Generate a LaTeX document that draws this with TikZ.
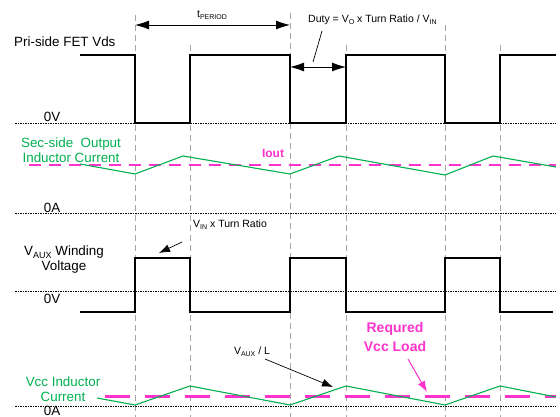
\documentclass[tikz,border=0pt]{standalone}
\usepackage{fontspec}
\setmainfont{Liberation Sans}
\usetikzlibrary{arrows.meta}
\definecolor{wavegreen}{RGB}{0,176,80}
\definecolor{loadpink}{RGB}{255,51,204}
\newcommand{\lowsub}[2][7]{\raisebox{-0.35ex}{\fontsize{#1}{#1}\selectfont #2}}
\tikzset{
  lbl/.style={font=\fontsize{13.4}{15}\selectfont, align=center, inner sep=0pt},
  note/.style={font=\fontsize{10.5}{12}\selectfont, inner sep=0pt},
  gridln/.style={draw=black!35, dash pattern=on 6pt off 4pt, line width=0.9pt},
  zero/.style={dash pattern=on 1.5pt off 1pt, line width=0.7pt},
  wave/.style={line width=1.4pt},
  ramp/.style={draw=wavegreen, line width=1.1pt},
  dim/.style={{Latex[length=14pt,width=9pt]}-{Latex[length=14pt,width=9pt]}, line width=0.8pt},
  ptr/.style={-{Latex[length=11pt,width=8pt]}, line width=0.7pt},
}
\begin{document}
\begin{tikzpicture}[x=1pt, y=-1pt]
  \useasboundingbox (0,0) rectangle (560,417);
  \foreach \xx/\yy in {135/15, 290/13, 445/25, 190/45, 346/45, 500/45}
    \draw[gridln] (\xx,\yy) -- (\xx,417);
  \foreach \yy in {123, 213, 291, 406}
    \draw[zero] (15,\yy) -- (556,\yy);

  % primary FET
  \node[lbl, anchor=west](pri) at (14,42){Pri-side FET Vds};
  \node[lbl](zv1) at (52,117){0V};
  \draw[wave] (80,55) -| (135,123) -| (190,55) -| (290,123) -| (346,55) -| (445,123) -| (500,55) -- (556,55);
  \node[note](tper) at (212,15){t\lowsub{PERIOD}};
  \coordinate (p0) at (135,25); \coordinate (p1) at (290,25);
  \draw[dim] (p0) -- (p1);
  \node[note, anchor=west](duty) at (308,20){Duty = V\lowsub{O} x Turn Ratio / V\lowsub{IN}};
  \coordinate (d0) at (290,67); \coordinate (d1) at (346,67);
  \draw[dim] (d0) -- (d1);
  \coordinate (dfrom) at (322,31); \coordinate (dto) at (313,62);
  \draw[line width=0.7pt] (dfrom) -- (dto);

  % secondary inductor current
  \node[lbl, text=wavegreen](sec) at (71,150){Sec-side\ \ Output\\Inductor Current};
  \draw[loadpink, line width=1.2pt, dash pattern=on 12pt off 8pt] (29,165) -- (556,165);
  \node[lbl, font=\fontsize{12}{14}\selectfont\bfseries, text=loadpink](iout) at (273,153){Iout};
  \draw[ramp] (80,164) -- (135,174) -- (183,156) -- (290,174) -- (339,156) -- (445,175) -- (493,156) -- (556,167);
  \node[lbl](za1) at (52,208){0A};

  % aux winding
  \node[lbl](vaux) at (64,260){V\lowsub[9]{AUX} Winding\\Voltage};
  \node[lbl](zv2) at (52,299){0V};
  \draw[wave] (80,312) -| (135,258) -| (190,312) -| (290,258) -| (346,312) -| (445,258) -| (500,312) -- (553,312);
  \node[note, anchor=west](vin) at (193,225){V\lowsub{IN} x Turn Ratio};
  \coordinate (vfrom) at (182,242); \coordinate (vto) at (159,253);
  \draw[ptr] (vfrom) -- (vto);

  % vcc inductor current
  \node[lbl, text=wavegreen](vcc) at (63,389){Vcc Inductor\\Current};
  \draw[loadpink, line width=3pt, dash pattern=on 25pt off 15pt] (105,396) -- (556,396);
  \draw[ramp] (97,398) -- (135,405) -- (190,386) -- (290,405) -- (346,386) -- (445,405) -- (500,386) -- (556,397);
  \node[lbl](za2) at (52,411){0A};
  \node[note](slope) at (252,352){V\lowsub{AUX} / L};
  \coordinate (sfrom) at (265,359); \coordinate (sto) at (333,387);
  \draw[ptr] (sfrom) -- (sto);
  \node[lbl, font=\fontsize{14}{19}\selectfont\bfseries, text=loadpink](load) at (395,337){Requred\\Vcc Load};
  \coordinate (lfrom) at (408,359); \coordinate (lto) at (427,392);
  \draw[ptr, loadpink, line width=1pt] (lfrom) -- (lto);
\end{tikzpicture}
\end{document}
